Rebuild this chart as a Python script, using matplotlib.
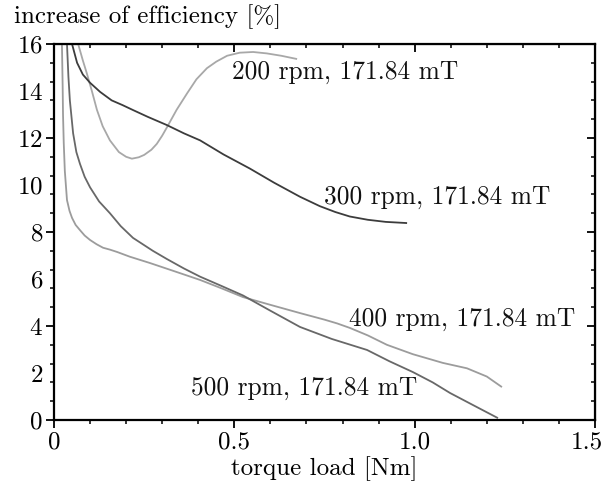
import numpy as np
import matplotlib
matplotlib.use("Agg")
import matplotlib.pyplot as plt
from matplotlib.transforms import ScaledTranslation

plt.rcParams['font.family'] = ['cmr10', 'DejaVu Serif']
plt.rcParams['axes.formatter.use_mathtext'] = True

# curves: torque load [Nm] -> increase of efficiency [%]
x_200 = [0.067, 0.080, 0.091, 0.105, 0.119, 0.135, 0.155, 0.180, 0.200, 0.216, 0.235,
         0.250, 0.270, 0.285, 0.300, 0.313, 0.340, 0.369, 0.395, 0.424, 0.450, 0.480,
         0.515, 0.552, 0.590, 0.630, 0.674]
y_200 = [16.0, 15.3, 14.75, 14.0, 13.2, 12.5, 11.9, 11.4, 11.2, 11.12, 11.18,
         11.28, 11.5, 11.75, 12.1, 12.45, 13.2, 13.9, 14.5, 14.97, 15.25, 15.5,
         15.63, 15.66, 15.6, 15.5, 15.36]

x_300 = [0.050, 0.057, 0.064, 0.072, 0.080, 0.100, 0.128, 0.160, 0.190, 0.219, 0.260,
         0.313, 0.360, 0.405, 0.470, 0.543, 0.610, 0.682, 0.737, 0.780, 0.820, 0.870,
         0.920, 0.979]
y_300 = [16.0, 15.6, 15.2, 14.95, 14.7, 14.35, 13.96, 13.6, 13.4, 13.19, 12.9,
         12.55, 12.2, 11.9, 11.3, 10.7, 10.1, 9.5, 9.1, 8.85, 8.66, 8.52,
         8.43, 8.38]

x_400 = [0.022, 0.024, 0.025, 0.027, 0.030, 0.036, 0.043, 0.050, 0.060, 0.072, 0.085,
         0.100, 0.118, 0.136, 0.155, 0.175, 0.210, 0.266, 0.330, 0.405, 0.465, 0.524,
         0.600, 0.682, 0.750, 0.785, 0.820, 0.870, 0.923, 0.995, 1.040, 1.078, 1.145,
         1.200, 1.242]
y_400 = [16.0, 14.2, 13.0, 11.8, 10.6, 9.36, 8.9, 8.6, 8.3, 8.08, 7.85,
         7.66, 7.48, 7.33, 7.25, 7.15, 6.95, 6.68, 6.35, 5.96, 5.6, 5.23,
         4.9, 4.55, 4.27, 4.11, 3.92, 3.6, 3.2, 2.8, 2.6, 2.43, 2.2,
         1.85, 1.4]

x_500 = [0.036, 0.040, 0.044, 0.053, 0.062, 0.072, 0.085, 0.100, 0.125, 0.155, 0.185,
         0.219, 0.274, 0.313, 0.360, 0.405, 0.465, 0.524, 0.600, 0.682, 0.770, 0.868,
         0.930, 0.995, 1.050, 1.098, 1.160, 1.231]
y_500 = [16.0, 14.6, 13.6, 12.2, 11.4, 10.9, 10.35, 9.9, 9.3, 8.8, 8.25,
         7.75, 7.2, 6.85, 6.45, 6.1, 5.7, 5.3, 4.65, 3.96, 3.45, 2.98,
         2.5, 2.04, 1.6, 1.15, 0.65, 0.08]

series = [
    (x_200, y_200, '#a8a8a8', '200 rpm, 171.84 mT', (0.493, 14.8)),
    (x_300, y_300, '#3c3c3c', '300 rpm, 171.84 mT', (0.748, 9.5)),
    (x_400, y_400, '#9c9c9c', '400 rpm, 171.84 mT', (0.818, 4.3)),
    (x_500, y_500, '#686868', '500 rpm, 171.84 mT', (0.380, 1.36)),
]

x_ticks = [0, 0.5, 1.0, 1.5]
x_labels = ['0', '0.5', '1.0', '1.5']
y_ticks = list(range(0, 17, 2))

fig = plt.figure(figsize=(6.03, 4.84), dpi=100)
ax = fig.add_axes([54 / 603, 64 / 484, 541 / 603, 376 / 484])

for xs, ys, col, lab, pos in series:
    ax.plot(xs, ys, color=col, lw=1.3, solid_capstyle='butt')
    ax.text(pos[0], pos[1], lab, fontsize=18.3, va='center', ha='left', color='#111111')

ax.set_xlim(0, 1.5)
ax.set_ylim(0, 16)

for s in ax.spines.values():
    s.set_linewidth(1.6)

# bottom / left ticks point outwards
ax.set_xticks(x_ticks)
ax.set_xticklabels(x_labels)
ax.set_xticks(np.arange(0, 1.51, 0.1), minor=True)
ax.set_yticks(y_ticks)
ax.set_yticks(np.arange(0, 16.01, 0.8), minor=True)
ax.tick_params(which='major', direction='out', length=6, width=1.3, labelsize=18, pad=2)
ax.tick_params(which='minor', direction='out', length=3, width=1.1)
ax.tick_params(top=False, right=False, which='both')
for t, v in zip(ax.yaxis.get_major_ticks(), y_ticks):
    if v % 4 != 0:
        t.tick1line.set_visible(False)
last = ax.xaxis.get_major_ticks()[-1].label1
last.set_transform(last.get_transform() + ScaledTranslation(-0.08, 0, fig.dpi_scale_trans))

# top / right ticks point inwards
top = ax.secondary_xaxis('top')
top.set_xticks(x_ticks)
top.set_xticks(np.arange(0, 1.51, 0.1), minor=True)
top.tick_params(which='major', direction='in', length=6, width=1.3, labeltop=False)
top.tick_params(which='minor', direction='in', length=3, width=1.1)
right = ax.secondary_yaxis('right')
right.set_yticks([0, 4, 8, 12, 16])
right.set_yticks(np.arange(0, 16.01, 0.8), minor=True)
right.tick_params(which='major', direction='in', length=6, width=1.3, labelright=False)
right.tick_params(which='minor', direction='in', length=3, width=1.1)

ax.set_xlabel('torque load [Nm]', fontsize=18, labelpad=2)
fig.text(14 / 603, 1 - 17 / 484, 'increase of efficiency [%]', fontsize=18,
         ha='left', va='center')

fig.savefig('out.png', dpi=100)
